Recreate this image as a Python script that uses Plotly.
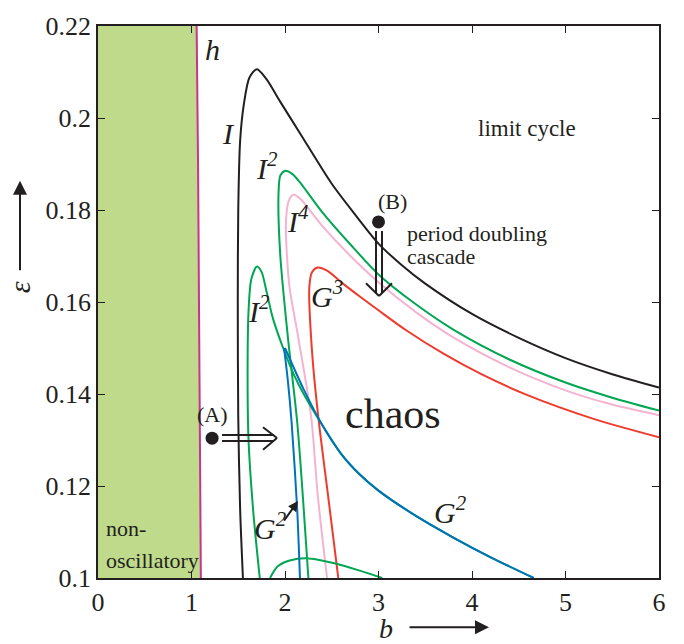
import plotly.graph_objects as go

# ---------------- data ----------------
h_b   = [1.100, 1.090, 1.080, 1.070, 1.055]
h_eps = [0.100, 0.130, 0.160, 0.190, 0.220]

I_b   = [1.55, 1.52, 1.50, 1.495, 1.50, 1.52, 1.56, 1.62, 1.70, 1.80, 1.95, 2.16, 2.50, 2.75, 3.00, 3.25, 3.50, 4.00, 4.50, 5.00, 5.50, 6.00]
I_eps = [0.100, 0.115, 0.135, 0.160, 0.180, 0.195, 0.203, 0.2088, 0.2106, 0.2085, 0.2035, 0.1967, 0.1857, 0.1790, 0.1727, 0.1680, 0.1640, 0.1574, 0.1522, 0.1478, 0.1443, 0.1414]

I2a_b   = [2.25, 2.19, 2.13, 2.03, 1.95, 1.93, 1.95, 2.00, 2.08, 2.16, 2.40, 2.70, 3.00, 3.40, 3.80, 4.40, 5.00, 5.50, 6.00]
I2a_eps = [0.100, 0.118, 0.134, 0.1525, 0.170, 0.183, 0.1875, 0.1885, 0.1878, 0.1860, 0.1795, 0.1725, 0.1660, 0.1595, 0.1540, 0.1475, 0.1425, 0.1392, 0.1364]

I4_b   = [2.45, 2.35, 2.28, 2.14, 2.05, 2.02, 2.01, 2.04, 2.09, 2.16, 2.40, 2.70, 3.00, 3.40, 3.80, 4.40, 5.00, 5.50, 6.00]
I4_eps = [0.100, 0.118, 0.135, 0.1525, 0.163, 0.1703, 0.1774, 0.1820, 0.1833, 0.1825, 0.1765, 0.1700, 0.1643, 0.1578, 0.1523, 0.1458, 0.1408, 0.1377, 0.1354]

G3_b   = [2.57, 2.46, 2.36, 2.29, 2.26, 2.29, 2.35, 2.45, 2.62, 2.80, 3.00, 3.30, 3.70, 4.10, 4.60, 5.30, 6.00]
G3_eps = [0.100, 0.118, 0.1343, 0.149, 0.1632, 0.1665, 0.1675, 0.1668, 0.1640, 0.1612, 0.1582, 0.1538, 0.1487, 0.1443, 0.1397, 0.1346, 0.1306]

I2b_b   = [1.73, 1.66, 1.61, 1.60, 1.61, 1.64, 1.70, 1.75, 1.80, 1.87, 1.98, 2.10, 2.20, 2.40, 2.60, 2.80, 3.00, 3.40, 3.80, 4.20, 4.66]
I2b_eps = [0.100, 0.1146, 0.130, 0.145, 0.158, 0.165, 0.1677, 0.1665, 0.1625, 0.1565, 0.1500, 0.1440, 0.1400, 0.1332, 0.1270, 0.1225, 0.1190, 0.1135, 0.1088, 0.1045, 0.1000]

G2L_b   = [2.16, 2.13, 2.07, 2.03, 1.99]
G2L_eps = [0.100, 0.115, 0.134, 0.143, 0.150]

G2R_b   = [2.00, 2.20, 2.40, 2.60, 2.80, 3.00, 3.40, 3.80, 4.20, 4.66]
G2R_eps = [0.1500, 0.1410, 0.1332, 0.1270, 0.1225, 0.1190, 0.1135, 0.1088, 0.1045, 0.1000]

hump_b   = [1.84, 1.92, 2.05, 2.23, 2.55, 2.80, 3.04]
hump_eps = [0.100, 0.1025, 0.1038, 0.1043, 0.1031, 0.1016, 0.100]

A_point = [1.22, 0.1304]
B_point = [3.00, 0.1774]

x_ticks = [0, 1, 2, 3, 4, 5, 6]
y_ticks = [0.10, 0.12, 0.14, 0.16, 0.18, 0.20, 0.22]
y_ticktext = ["0.1", "0.12", "0.14", "0.16", "0.18", "0.2", "0.22"]

# ---------------- styling ----------------
FONT = "Liberation Serif"
C_BLACK = "#231f20"
C_GREEN = "#00a651"
C_PINK = "#f4b3d0"
C_RED = "#ee3b2d"
C_BLUE = "#0072bc"
C_MAG = "#c7358f"
C_FILL = "#bfda8b"

W, H = 684, 644
L, R, T, B = 98, 25, 18, 66
X0, X1 = 0, 6
Y0, Y1 = 0.10, 0.22


def P(px, py):
    """pixel -> paper coordinates (for annotation / shape placement only)"""
    return (px - L) / (W - L - R), 1 - (py - T) / (H - T - B)


fig = go.Figure()

# non-oscillatory region (bounded by the h curve)
fill_x = [0] + h_b + [0]
fill_y = [h_eps[0]] + h_eps + [h_eps[-1]]
fig.add_trace(go.Scatter(x=fill_x, y=fill_y, fill="toself", fillcolor=C_FILL, mode="none", hoverinfo="skip"))


def curve(xs, ys, color, width=2.0):
    fig.add_trace(go.Scatter(x=xs, y=ys, mode="lines",
                             line=dict(color=color, width=width, shape="spline", smoothing=0.8)))


curve(h_b, h_eps, C_MAG, 2)
curve(I_b, I_eps, C_BLACK)
curve(I2a_b, I2a_eps, C_GREEN)
curve(I4_b, I4_eps, C_PINK)
curve(G3_b, G3_eps, C_RED)
curve(I2b_b, I2b_eps, C_GREEN)
curve(hump_b, hump_eps, C_GREEN)
curve(G2L_b, G2L_eps, C_BLUE)
curve(G2R_b, G2R_eps, C_BLUE)

fig.add_trace(go.Scatter(x=[A_point[0], B_point[0]], y=[A_point[1], B_point[1]], mode="markers",
                         marker=dict(color=C_BLACK, size=13), cliponaxis=False))

annotations = []


def text(px, py, s, size, italic=False, xanchor="center", align="center", angle=0):
    x, y = P(px, py)
    if italic:
        s = "<i>" + s + "</i>"
    annotations.append(dict(x=x, y=y, xref="paper", yref="paper", text=s, showarrow=False,
                            font=dict(family=FONT, size=size, color=C_BLACK), textangle=angle,
                            xanchor=xanchor, yanchor="middle", align=align))


text(212, 42, "h", 30, True)
text(228, 127, "I", 30, True)
text(267, 160, "I<sup>2</sup>", 30, True)
text(298, 214, "I<sup>4</sup>", 30, True)
text(259, 305, "I<sup>2</sup>", 30, True)
text(327, 290, "G<sup>3</sup>", 30, True)
text(270, 525, "G<sup>2</sup>", 30, True)
text(450, 509, "G<sup>2</sup>", 30, True)
text(527, 122, "limit cycle", 23)
text(392, 196, "(B)", 22)
text(212, 412, "(A)", 22)
text(405, 229, "period doubling", 22, xanchor="left")
text(405, 252, "cascade", 22, xanchor="left")
text(393, 412, "chaos", 42)
text(104, 528, "non-", 22, xanchor="left")
text(104, 560, "oscillatory", 22, xanchor="left")

# axis titles with arrows
text(386, 629, "b", 28, True)
text(19, 283, "ε", 30, True, angle=-90)


def arrow(p_from, p_to, head=1.0):
    xh, yh = P(*p_to)
    annotations.append(dict(x=xh, y=yh, xref="paper", yref="paper", text="", showarrow=True,
                            ax=p_from[0] - p_to[0], ay=p_from[1] - p_to[1],
                            arrowhead=2, arrowsize=head, arrowwidth=2, arrowcolor=C_BLACK))


arrow((408, 628), (489, 628), 1.4)
arrow((20, 266), (20, 175), 1.4)
arrow((283, 521), (298, 500), 1.0)

shapes = []


def seg(p1, p2, w=2):
    x1, y1 = P(*p1)
    x2, y2 = P(*p2)
    shapes.append(dict(type="line", x0=x1, y0=y1, x1=x2, y1=y2, xref="paper", yref="paper",
                       line=dict(color=C_BLACK, width=w)))


# double arrow (A) ->
seg((222, 433), (274, 433))
seg((222, 439), (274, 439))
seg((263, 425), (277, 436))
seg((277, 436), (263, 448))
# double arrow (B) down
seg((376, 226), (376, 289))
seg((382, 226), (382, 289))
seg((366, 279), (379, 292))
seg((379, 292), (392, 279))

fig.update_layout(
    width=W, height=H,
    margin=dict(l=L, r=R, t=T, b=B),
    paper_bgcolor="white", plot_bgcolor="white",
    showlegend=False,
    annotations=annotations, shapes=shapes,
    font=dict(family=FONT, color=C_BLACK),
)
axis_common = dict(showline=True, linecolor=C_BLACK, linewidth=1.5, mirror="allticks",
                   ticks="inside", ticklen=7, tickwidth=1.2, tickcolor=C_BLACK,
                   showgrid=False, zeroline=False,
                   tickfont=dict(family=FONT, size=26, color=C_BLACK))
fig.update_xaxes(range=[X0, X1], tickvals=x_ticks, **axis_common)
fig.update_yaxes(range=[Y0, Y1], tickvals=y_ticks, ticktext=y_ticktext, **axis_common)

fig.write_html("out.html")
